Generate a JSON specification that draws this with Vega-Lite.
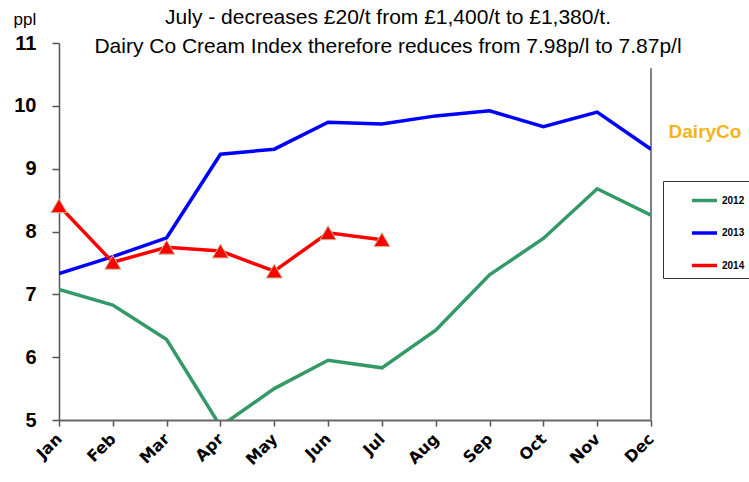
{
  "$schema": "https://vega.github.io/schema/vega-lite/v6.json",
  "width": 592,
  "height": 377,
  "autosize": {"type": "none"},
  "padding": {"left": 59, "top": 43, "right": 98, "bottom": 62},
  "background": "white",
  "title": {
    "text": ["July - decreases £20/t from £1,400/t to £1,380/t.", "Dairy Co Cream Index therefore reduces from 7.98p/l to 7.87p/l"],
    "font": "Liberation Sans",
    "fontSize": 21,
    "fontWeight": "normal",
    "color": "black",
    "lineHeight": 29,
    "anchor": "middle",
    "frame": "group",
    "dx": 33,
    "offset": -47
  },
  "config": {"view": {"stroke": null}},
  "data": {
    "values": [
      {"month": "Jan", "year": "2012", "value": 7.08},
      {"month": "Feb", "year": "2012", "value": 6.83},
      {"month": "Mar", "year": "2012", "value": 6.28},
      {"month": "Apr", "year": "2012", "value": 4.9},
      {"month": "May", "year": "2012", "value": 5.5},
      {"month": "Jun", "year": "2012", "value": 5.95},
      {"month": "Jul", "year": "2012", "value": 5.83},
      {"month": "Aug", "year": "2012", "value": 6.43},
      {"month": "Sep", "year": "2012", "value": 7.31},
      {"month": "Oct", "year": "2012", "value": 7.89},
      {"month": "Nov", "year": "2012", "value": 8.68},
      {"month": "Dec", "year": "2012", "value": 8.26},
      {"month": "Jan", "year": "2013", "value": 7.33},
      {"month": "Feb", "year": "2013", "value": 7.6},
      {"month": "Mar", "year": "2013", "value": 7.9},
      {"month": "Apr", "year": "2013", "value": 9.23},
      {"month": "May", "year": "2013", "value": 9.31},
      {"month": "Jun", "year": "2013", "value": 9.74},
      {"month": "Jul", "year": "2013", "value": 9.71},
      {"month": "Aug", "year": "2013", "value": 9.84},
      {"month": "Sep", "year": "2013", "value": 9.92},
      {"month": "Oct", "year": "2013", "value": 9.67},
      {"month": "Nov", "year": "2013", "value": 9.9},
      {"month": "Dec", "year": "2013", "value": 9.31},
      {"month": "Jan", "year": "2014", "value": 8.41},
      {"month": "Feb", "year": "2014", "value": 7.51},
      {"month": "Mar", "year": "2014", "value": 7.75},
      {"month": "Apr", "year": "2014", "value": 7.69},
      {"month": "May", "year": "2014", "value": 7.37},
      {"month": "Jun", "year": "2014", "value": 7.98},
      {"month": "Jul", "year": "2014", "value": 7.87}
    ]
  },
  "layer": [
    {
      "data": {"values": [{"edge": "right"}]},
      "mark": {"type": "rule", "color": "#808080", "strokeWidth": 2},
      "encoding": {
        "x": {"datum": "Dec", "type": "ordinal"},
        "y": {"datum": 5, "type": "quantitative"},
        "y2": {"datum": 10.6}
      }
    },
    {
      "mark": {"type": "line", "strokeWidth": 3.5, "clip": true},
      "encoding": {
        "x": {
          "field": "month",
          "type": "ordinal",
          "sort": ["Jan", "Feb", "Mar", "Apr", "May", "Jun", "Jul", "Aug", "Sep", "Oct", "Nov", "Dec"],
          "scale": {"type": "point", "padding": 0},
          "axis": {
            "title": null,
            "grid": false,
            "labelAngle": -45,
            "labelAlign": "right",
            "labelBaseline": "middle",
            "labelFont": "DejaVu Sans",
            "labelFontSize": 16,
            "labelFontWeight": "bold",
            "labelColor": "black",
            "labelPadding": 10,
            "tickSize": 6,
            "tickColor": "#555555",
            "tickWidth": 1.5,
            "domainColor": "#666666",
            "domainWidth": 2
          }
        },
        "y": {
          "field": "value",
          "type": "quantitative",
          "scale": {"domain": [5, 11], "nice": false, "zero": false},
          "axis": {
            "values": [5, 6, 7, 8, 9, 10, 11],
            "format": "d",
            "title": "ppl",
            "titleAngle": 0,
            "titleAlign": "left",
            "titleBaseline": "alphabetic",
            "titleX": -46,
            "titleY": -19,
            "titleFont": "Liberation Sans",
            "titleFontSize": 17,
            "titleFontWeight": "normal",
            "titleColor": "black",
            "labelFont": "Liberation Sans",
            "labelFontSize": 20,
            "labelFontWeight": "bold",
            "labelColor": "black",
            "labelPadding": 16,
            "tickSize": 7,
            "tickColor": "#555555",
            "tickWidth": 1.5,
            "domainColor": "#555555",
            "domainWidth": 1.5,
            "gridColor": "#808080",
            "gridWidth": 2,
            "gridOpacity": {"expr": "datum.value == 11 ? 0 : 1"}
          }
        },
        "color": {
          "field": "year",
          "type": "nominal",
          "scale": {"domain": ["2012", "2013", "2014"], "range": ["#339966", "#0000FF", "#FF0000"]},
          "legend": {
            "title": null,
            "orient": "none",
            "legendX": 604,
            "legendY": 138,
            "strokeColor": "#333333",
            "fillColor": "white",
            "padding": 5,
            "symbolType": "stroke",
            "symbolSize": 625,
            "symbolStrokeWidth": 3.5,
            "symbolOffset": 22,
            "labelOffset": 3,
            "rowPadding": 10.5,
            "labelFont": "Liberation Sans",
            "labelFontSize": 10,
            "labelFontWeight": "bold",
            "labelColor": "black",
            "labelExpr": "datum.label + '\u00a0\u00a0\u00a0\u00a0\u00a0\u00a0'"
          }
        }
      }
    },
    {
      "transform": [{"filter": "datum.year == '2014'"}],
      "mark": {"type": "point", "shape": "triangle-up", "filled": true, "size": 256, "color": "#FF0000", "stroke": "#c9b98f", "strokeWidth": 1, "opacity": 1},
      "encoding": {
        "x": {"field": "month", "type": "ordinal", "sort": ["Jan", "Feb", "Mar", "Apr", "May", "Jun", "Jul", "Aug", "Sep", "Oct", "Nov", "Dec"]},
        "y": {"field": "value", "type": "quantitative"}
      }
    },
    {
      "data": {"values": [{"label": "DairyCo"}]},
      "mark": {"type": "text", "font": "Liberation Sans", "fontSize": 19, "fontWeight": "bold", "color": "#F5B31A", "align": "center", "baseline": "middle", "dx": 54},
      "encoding": {
        "x": {"datum": "Dec", "type": "ordinal"},
        "y": {"datum": 9.58, "type": "quantitative"},
        "text": {"field": "label"}
      }
    }
  ]
}
